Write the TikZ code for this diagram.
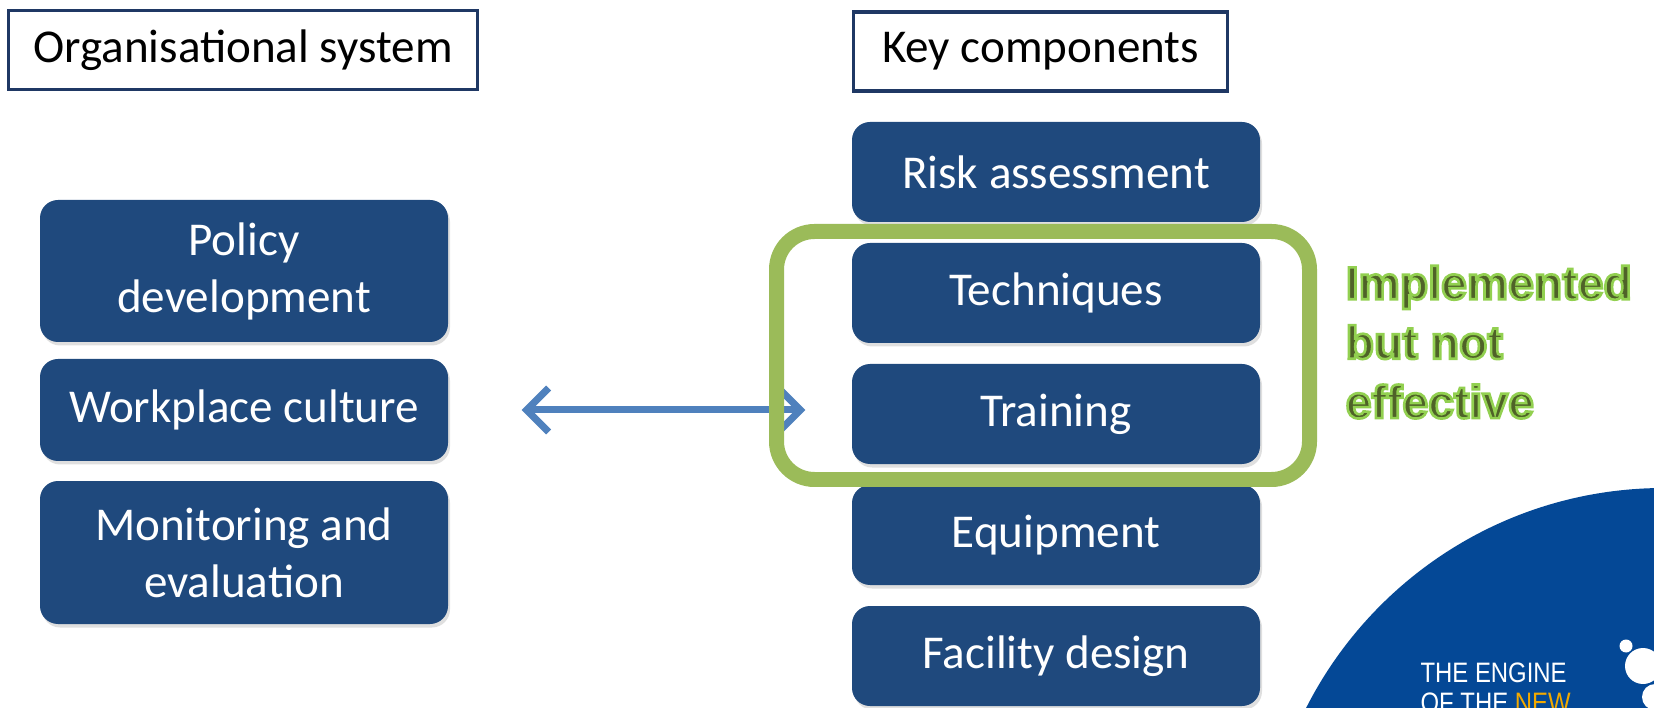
\documentclass[tikz,border=0pt]{standalone}
\usepackage{fontspec}
\setmainfont{Carlito}
\newfontfamily\calloutfont{Liberation Sans}
\newfontfamily\logofont{Liberation Sans}
\usetikzlibrary{arrows.meta,shadows}

\definecolor{boxblue}{RGB}{31,73,125}
\definecolor{framenavy}{RGB}{31,56,100}
\definecolor{ringgreen}{RGB}{155,187,89}
\definecolor{arrowblue}{RGB}{79,129,189}
\definecolor{textgreen}{RGB}{79,98,40}
\definecolor{logoblue}{RGB}{4,72,150}
\definecolor{logogold}{RGB}{242,169,0}

% outlined text: fill in the current colour, light green stroke
\newcommand{\glowtext}[1]{\special{pdf:literal direct 0.573 0.816 0.314 RG 0.75 w 2 Tr}#1\special{pdf:literal direct 0 Tr}}

\tikzset{
  heading/.style={draw=framenavy, line width=0.033cm, fill=white, minimum height=0.79cm,
    inner sep=0pt, font=\fontsize{13.4}{16.2}\selectfont},
  item/.style={fill=boxblue, text=white, rounded corners=0.18cm, minimum width=4.08cm,
    inner sep=0pt, align=center, font=\fontsize{13.4}{16.2}\selectfont,
    drop shadow={shadow xshift=0.02cm, shadow yshift=-0.035cm, opacity=0.25}},
  link/.style={draw=arrowblue, line width=0.07cm, line cap=round,
    {Straight Barb[length=2.2mm, width=4.4mm]}-{Straight Barb[length=2.2mm, width=4.4mm]}},
  ring/.style={draw=ringgreen, line width=0.15cm, rounded corners=0.38cm},
  callout/.style={anchor=north west, inner sep=0pt, align=left, text=textgreen,
    font=\calloutfont\bfseries\fontsize{13.2}{16.9}\selectfont},
  logotext/.style={anchor=north west, inner sep=0pt, align=left, text=white,
    font=\logofont\fontsize{8}{8.5}\selectfont, xscale=0.85, transform shape},
}

\begin{document}
\begin{tikzpicture}
  \useasboundingbox (0,0) rectangle (16.54,7.07);
  % logo in the corner
  \fill[logoblue] (16.64,-1.82) circle [radius=4.01];
  \fill[white] (16.26,0.61) circle [radius=0.065];
  \fill[white] (16.43,0.41) circle [radius=0.18];
  \fill[white] (16.55,0.10) circle [radius=0.13];
  \node[logotext] (engine) at (14.20,0.45) {THE ENGINE\\OF THE \textcolor{logogold}{NEW}};
  % headings
  \node[heading, minimum width=4.69cm] (orgsys) at (2.43,6.57) {Organisational system};
  \node[heading, minimum width=3.74cm] (keycomp) at (10.405,6.555) {Key components};
  % organisational system
  \node[item, minimum height=1.42cm] (policy) at (2.44,4.36) {Policy\\development};
  \node[item, minimum height=1.02cm] (culture) at (2.44,2.97) {Workplace culture};
  \node[item, minimum height=1.43cm] (monitor) at (2.44,1.545) {Monitoring and\\evaluation};
  % key components
  \node[item, minimum height=1cm] (risk) at (10.56,5.35) {Risk assessment};
  \node[item, minimum height=1cm] (techniques) at (10.56,4.14) {Techniques};
  \node[item, minimum height=1cm] (training) at (10.56,2.93) {Training};
  \node[item, minimum height=1cm] (equipment) at (10.56,1.72) {Equipment};
  \node[item, minimum height=1cm] (facility) at (10.56,0.51) {Facility design};
  % link between the two sides
  \draw[link, shorten <=0.73cm, shorten >=0.46cm] (culture.east) -- (culture.east -| training.west);
  % highlight
  \draw[ring] (7.765,2.275) rectangle (13.095,4.755);
  \node[callout] (verdict) at (13.45,4.42)
    {\glowtext{Implemented}\\\glowtext{but not}\\\glowtext{effective}};
\end{tikzpicture}
\end{document}
